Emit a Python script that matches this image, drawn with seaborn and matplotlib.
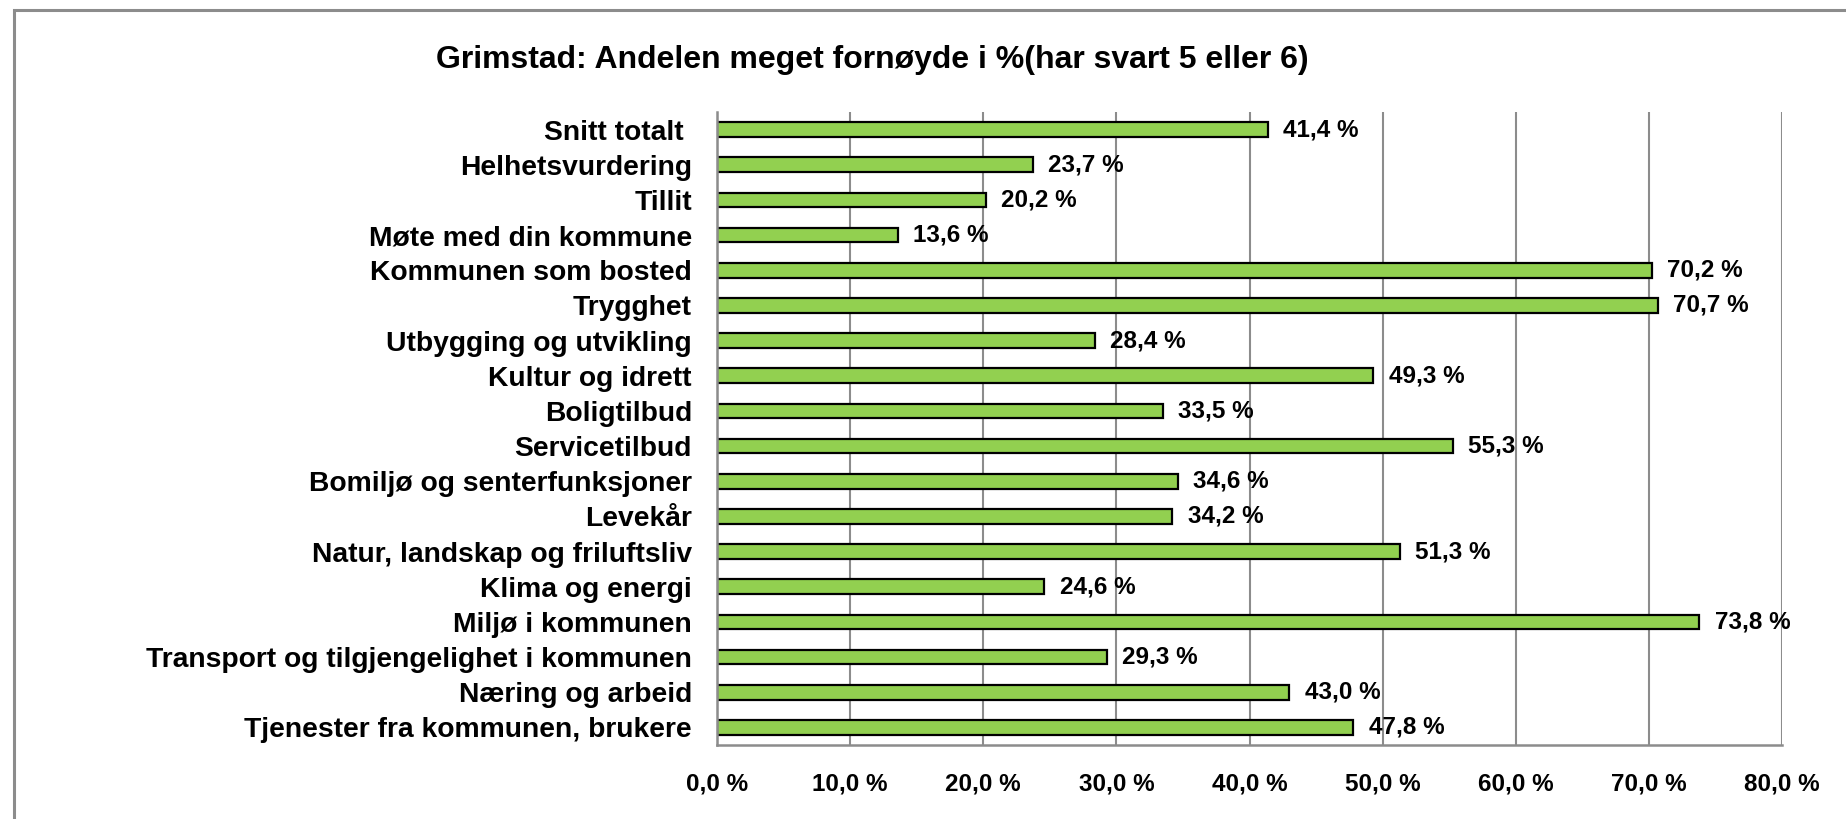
import matplotlib
matplotlib.use("Agg")
import matplotlib.pyplot as plt
from matplotlib.patches import Rectangle
from matplotlib.ticker import FixedLocator, FuncFormatter
import seaborn as sns
import pandas as pd

categories = [
    "Snitt totalt ",
    "Helhetsvurdering",
    "Tillit",
    "Møte med din kommune",
    "Kommunen som bosted",
    "Trygghet",
    "Utbygging og utvikling",
    "Kultur og idrett",
    "Boligtilbud",
    "Servicetilbud",
    "Bomiljø og senterfunksjoner",
    "Levekår",
    "Natur, landskap og friluftsliv",
    "Klima og energi",
    "Miljø i kommunen",
    "Transport og tilgjengelighet i kommunen",
    "Næring og arbeid",
    "Tjenester fra kommunen, brukere",
]
values = [41.4, 23.7, 20.2, 13.6, 70.2, 70.7, 28.4, 49.3, 33.5, 55.3,
          34.6, 34.2, 51.3, 24.6, 73.8, 29.3, 43.0, 47.8]
x_ticks = [0, 10, 20, 30, 40, 50, 60, 70, 80]
title = "Grimstad: Andelen meget fornøyde i %(har svart 5 eller 6)"

sns.set_style("white")
plt.rcParams["font.family"] = ["Liberation Sans", "DejaVu Sans"]
plt.rcParams["font.weight"] = "bold"
plt.rcParams["text.color"] = "black"
plt.rcParams["xtick.color"] = "black"
plt.rcParams["ytick.color"] = "black"

df = pd.DataFrame({"cat": categories, "val": values})

fig = plt.figure(figsize=(18.46, 8.19), dpi=100)
ax = fig.add_axes([717 / 1846, 1 - 745 / 819, (1782 - 717) / 1846, (745 - 112) / 819])

sns.barplot(data=df, x="val", y="cat", orient="h", color="#92D050",
            edgecolor="black", linewidth=1.6, width=0.42, saturation=1, ax=ax)

ax.set_xlim(0, 80)
ax.set_ylim(len(categories) - 0.5, -0.5)
ax.xaxis.set_major_locator(FixedLocator(x_ticks))
ax.xaxis.set_major_formatter(FuncFormatter(lambda v, p: f"{v:.1f} %".replace(".", ",")))
ax.grid(axis="x", color="#8c8c8c", linewidth=1.5)
ax.set_axisbelow(True)
ax.set_xlabel("")
ax.set_ylabel("")

for s in ["top", "right"]:
    ax.spines[s].set_visible(False)
for s in ["left", "bottom"]:
    ax.spines[s].set_color("#8c8c8c")
    ax.spines[s].set_linewidth(1.8)

ax.tick_params(axis="x", length=8, width=1.5, color="#8c8c8c", direction="out",
               pad=12, labelsize=17.5, labelcolor="black")
ax.tick_params(axis="y", which="major", length=0, pad=18, labelsize=20.3, labelcolor="black")
ax.yaxis.set_minor_locator(FixedLocator([i - 0.5 for i in range(len(categories) + 1)]))
ax.tick_params(axis="y", which="minor", length=8, width=1.5, color="#8c8c8c", direction="out")
for lab in ax.get_xticklabels() + ax.get_yticklabels():
    lab.set_fontweight("bold")

for i, v in enumerate(values):
    ax.annotate(f"{v:.1f} %".replace(".", ","), xy=(v, i), xytext=(11, 0),
                textcoords="offset points", ha="left", va="center",
                fontsize=17.5, fontweight="bold", color="black")

fig.text(872 / 1846, 1 - 60 / 819, title, ha="center", va="center",
         fontsize=23, fontweight="bold", color="black")

fig.patches.append(Rectangle((14 / 1846, -0.1), 1.2, 1.1 - 10 / 819,
                             transform=fig.transFigure, fill=False,
                             edgecolor="#8c8c8c", linewidth=2.2))

fig.savefig("out.png", dpi=100)
